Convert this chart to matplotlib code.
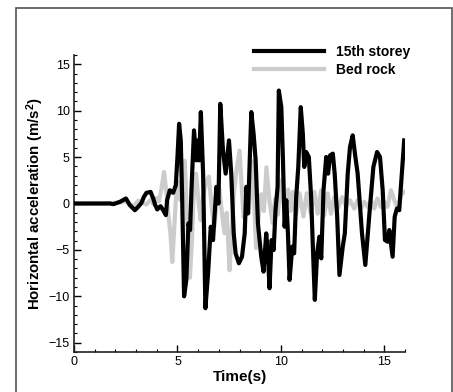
import matplotlib
matplotlib.use("Agg")
import matplotlib.pyplot as plt
from matplotlib.patches import Rectangle

# 15th storey response (time in s, acceleration in m/s^2)
t_storey = [0.0, 1.74, 1.90, 2.22, 2.51, 2.70, 2.94, 3.10, 3.26, 3.38, 3.50, 3.70,
            3.83, 3.91, 4.02, 4.18, 4.31, 4.44, 4.50, 4.63, 4.79, 4.92, 5.00, 5.08,
            5.16, 5.23, 5.32, 5.43, 5.53, 5.61, 5.69, 5.80, 5.92, 6.00, 6.05, 6.13,
            6.24, 6.35, 6.48, 6.61, 6.72, 6.88, 6.98, 7.07, 7.20, 7.33, 7.49, 7.60,
            7.72, 7.81, 7.97, 8.12, 8.25, 8.33, 8.41, 8.57, 8.68, 8.78, 8.89, 9.05,
            9.16, 9.29, 9.37, 9.45, 9.55, 9.65, 9.74, 9.84, 9.90, 10.02, 10.10, 10.18,
            10.26, 10.34, 10.42, 10.55, 10.64, 10.74, 10.84, 10.96, 11.06, 11.13, 11.22,
            11.35, 11.46, 11.58, 11.64, 11.75, 11.86, 11.95, 12.06, 12.19, 12.28, 12.38,
            12.51, 12.60, 12.72, 12.83, 12.99, 13.09, 13.23, 13.34, 13.47, 13.60, 13.71,
            13.92, 14.08, 14.28, 14.47, 14.65, 14.79, 14.92, 15.03, 15.16, 15.24, 15.40,
            15.50, 15.61, 15.72, 15.96]
a_storey = [0.0, 0.0, -0.07, 0.18, 0.54, -0.18, -0.72, -0.36, 0.07, 0.72, 1.15, 1.25,
            0.54, -0.07, -0.64, -0.29, -0.72, -1.25, 0.36, 1.43, 1.15, 1.97, 5.01, 8.59,
            6.80, 0.36, -10.0, -8.2, -2.15, -2.86, 2.15, 7.88, 4.65, 6.80, 4.65, 9.85,
            3.22, -11.28, -7.52, -2.5, -3.94, 1.79, 0.0, 10.74, 5.73, 3.22, 6.80, 3.22,
            -3.22, -5.37, -6.44, -5.73, -3.22, 1.79, -1.07, 9.85, 7.52, 4.65, -2.15, -5.73,
            -7.34, -3.22, -5.37, -9.13, -3.94, -5.01, -0.72, 1.79, 12.17, 10.38, 4.65, -2.5,
            0.36, -3.22, -8.23, -4.65, -5.37, 0.72, 3.94, 10.38, 7.52, 3.94, 5.55,
            5.01, 0.72, -6.80, -10.38, -5.37, -3.58, -5.91, 1.43, 5.01, 3.22, 5.19,
            5.37, 3.22, -1.43, -7.70, -4.65, -3.22, 3.22, 6.09, 7.34, 5.01, 3.22,
            -3.22, -6.62, -1.07, 3.94, 5.55, 5.01, 1.43, -3.94, -4.12, -2.86, -5.73,
            -1.43, -0.54, -0.72, 6.80]

# bed rock input motion
t_rock = [0.0, 1.25, 1.8, 2.2, 2.5, 2.7, 2.9, 3.1, 3.3, 3.5, 3.7, 3.85, 4.0, 4.1,
          4.22, 4.35, 4.45, 4.55, 4.66, 4.75, 4.84, 4.93, 5.03, 5.13, 5.22, 5.35,
          5.44, 5.52, 5.6, 5.7, 5.8, 5.9, 6.02, 6.12, 6.25, 6.38, 6.52, 6.65, 6.78,
          6.9, 7.02, 7.15, 7.27, 7.38, 7.52, 7.62, 7.72, 7.85, 8.0, 8.1, 8.2, 8.32,
          8.45, 8.6, 8.7, 8.8, 8.92, 9.05, 9.18, 9.3, 9.45, 9.6, 9.72, 9.85, 10.0,
          10.12, 10.22, 10.35, 10.48, 10.58, 10.74, 10.9, 11.09, 11.25, 11.44, 11.62,
          11.78, 11.94, 12.1, 12.26, 12.42, 12.58, 12.75, 12.96, 13.15, 13.34, 13.55,
          13.71, 13.87, 14.03, 14.19, 14.35, 14.51, 14.67, 14.83, 14.99, 15.15, 15.32,
          15.48, 15.64, 15.8, 15.96]
a_rock = [0.0, 0.0, 0.05, 0.1, 0.25, -0.1, -0.25, 0.3, 0.1, -0.1, 0.4, -0.1, 0.6, 0.2,
          1.5, 3.4, 1.5, -1.0, -3.2, -6.3, -2.8, 0.7, 2.3, 0.4, 2.4, 4.6,
          -0.4, -4.0, -8.0, -4.0, 1.8, 3.2, 0.2, -1.8, 0.8, 2.3, 2.9, -0.3, -2.5,
          0.2, 1.6, -1.0, -3.2, -1.0, -7.2, -3.0, 1.0, 3.5, 5.7, 2.0, -1.5, 0.5,
          -1.0, 4.6, 0.5, -4.8, -1.5, 1.0, -0.8, 3.9, 0.2, -2.1, 0.5, -1.2, 2.5,
          0.2, -1.8, 1.5, -0.8, 1.25, -1.1, 1.1, -1.4, 1.1, -1.1, 1.25,
          -1.1, 1.4, -1.25, 1.1, -1.1, 0.7, -0.55, 0.7, -0.36, 0.36, -0.55,
          0.36, -0.55, 0.18, -0.36, 0.36, -0.55, 0.54, -0.36, 0.18, -0.36, 1.43,
          0.36, -0.54, 0.9, 1.25]

if __name__ == "__main__":

    plt.rcParams["font.family"] = ["Liberation Sans", "DejaVu Sans"]
    plt.rcParams["mathtext.default"] = "regular"

    fig = plt.figure(figsize=(4.53, 3.92), dpi=100)
    ax = fig.add_axes([0.1634, 0.102, 0.7307, 0.7577])

    # grey frame around the whole picture
    fig.patches.append(Rectangle((16 / 453, -0.05), 436 / 453, 1.03, transform=fig.transFigure,
                                 fill=False, edgecolor="#555555", linewidth=1.2))

    ax.plot(t_rock, a_rock, color="#cccccc", linewidth=3, label="Bed rock", zorder=2)
    ax.plot(t_storey, a_storey, color="black", linewidth=3, label="15th storey", zorder=3)

    ax.set_xlim(0, 16)
    ax.set_ylim(-16, 16)
    ax.set_xticks([0, 5, 10, 15])
    ax.set_xticks(range(0, 17), minor=True)
    ax.set_yticks([-15, -10, -5, 0, 5, 10, 15])
    ax.set_yticks(range(-16, 17), minor=True)

    for side in ["top", "right"]:
        ax.spines[side].set_visible(False)
    for side in ["left", "bottom"]:
        ax.spines[side].set_linewidth(1.2)
        ax.spines[side].set_color("#222222")

    ax.tick_params(which="major", direction="in", length=5, width=1, labelsize=9, pad=3)
    ax.tick_params(which="minor", direction="in", length=2.5, width=0.8)

    ax.set_xlabel("Time(s)", fontsize=11, fontweight="bold", labelpad=1)
    ax.set_ylabel("Horizontal acceleration (m/s$^{2}$)", fontsize=10.8, fontweight="bold", labelpad=2)

    handles, labels = ax.get_legend_handles_labels()
    ax.legend(handles[::-1], labels[::-1], loc="upper left", bbox_to_anchor=(0.544, 1.035),
              frameon=False, borderpad=0, borderaxespad=0, handlelength=5, handletextpad=0.9,
              labelspacing=0.3, prop={"size": 10, "weight": "bold"})

    fig.savefig("out.png", dpi=100)
